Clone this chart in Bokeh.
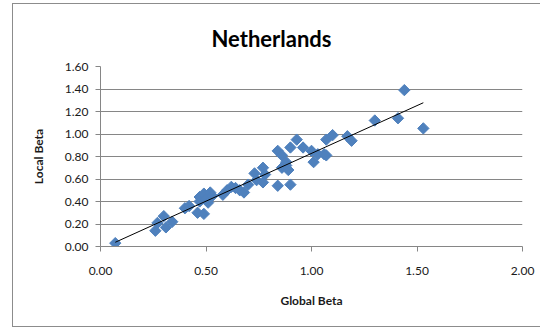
import numpy as np
from bokeh.plotting import figure
from bokeh.models import Range1d, FixedTicker, NumeralTickFormatter, ColumnDataSource
from bokeh.embed import file_html
from bokeh.resources import INLINE

title_text = "Netherlands"
x_label = "Global Beta"
y_label = "Local Beta"
x_ticks = [0.0, 0.5, 1.0, 1.5, 2.0]
y_ticks = [0.0, 0.2, 0.4, 0.6, 0.8, 1.0, 1.2, 1.4, 1.6]

global_beta = [0.07, 0.26, 0.27, 0.30, 0.31, 0.34, 0.40, 0.42, 0.46, 0.47, 0.47, 0.49, 0.49,
               0.50, 0.52, 0.53, 0.51, 0.58, 0.60, 0.62, 0.64, 0.66, 0.68, 0.70, 0.73, 0.74,
               0.77, 0.77, 0.78, 0.84, 0.84, 0.86, 0.86, 0.88, 0.88, 0.89, 0.90, 0.90, 0.93,
               0.96, 1.00, 1.01, 1.03, 1.06, 1.07, 1.07, 1.10, 1.17, 1.19, 1.30, 1.41, 1.44, 1.53]
local_beta = [0.03, 0.14, 0.21, 0.27, 0.17, 0.22, 0.34, 0.36, 0.30, 0.44, 0.40, 0.29, 0.47,
              0.42, 0.48, 0.45, 0.39, 0.46, 0.50, 0.53, 0.52, 0.50, 0.48, 0.55, 0.65, 0.59,
              0.70, 0.57, 0.64, 0.54, 0.85, 0.81, 0.70, 0.72, 0.75, 0.68, 0.55, 0.88, 0.95,
              0.88, 0.85, 0.75, 0.82, 0.82, 0.81, 0.95, 0.99, 0.98, 0.94, 1.12, 1.14, 1.39, 1.05]

FONT = "Lato"
GRAY = "#868686"

xs = np.array(global_beta)
ys = np.array(local_beta)
slope, intercept = np.polyfit(xs, ys, 1)
trend_x = [xs.min(), xs.max()]
trend_y = [slope * v + intercept for v in trend_x]

p = figure(width=528, height=324, output_backend="svg", toolbar_location=None,
           x_range=Range1d(x_ticks[0], x_ticks[-1]), y_range=Range1d(y_ticks[0], y_ticks[-1]),
           min_border_left=87, min_border_right=18, min_border_top=62, min_border_bottom=80)
p.frame_width = 422
p.frame_height = 180
p.outline_line_color = None
p.background_fill_color = "white"
p.border_fill_color = "white"
p.styles = {"border": "1px solid #8c8c8c", "box-sizing": "border-box",
            "margin-left": "12px", "margin-top": "3px"}

p.title.text = title_text
p.title.align = "left"
p.title.offset = 111
p.title.standoff = 25
p.title.vertical_align = "top"
p.title.text_font = FONT
p.title.text_font_size = "22px"
p.title.text_font_style = "bold"
p.title.text_color = "#000000"

p.xgrid.visible = False
p.ygrid.ticker = FixedTicker(ticks=y_ticks)
p.ygrid.grid_line_color = GRAY
p.ygrid.grid_line_width = 1

for ax, ticks in ((p.xaxis[0], x_ticks), (p.yaxis[0], y_ticks)):
    ax.ticker = FixedTicker(ticks=ticks)
    ax.formatter = NumeralTickFormatter(format="0.00")
    ax.axis_line_color = GRAY
    ax.major_tick_line_color = GRAY
    ax.major_tick_in = 0
    ax.major_tick_out = 5
    ax.minor_tick_line_color = None
    ax.major_label_text_font = FONT
    ax.major_label_text_font_size = "12px"
    ax.major_label_text_color = "#1a1a1a"
    ax.axis_label_text_font = FONT
    ax.axis_label_text_font_size = "12px"
    ax.axis_label_text_font_style = "bold"
    ax.axis_label_text_color = "#1a1a1a"

p.xaxis.axis_label = x_label
p.yaxis.axis_label = y_label
p.xaxis.major_label_standoff = 15
p.xaxis.axis_label_standoff = 15
p.yaxis.major_label_standoff = 7
p.yaxis.axis_label_standoff = 16

src = ColumnDataSource(dict(x=global_beta, y=local_beta))
p.scatter("x", "y", source=src, marker="square", angle=np.pi / 4, size=8,
          fill_color="#4F81BD", line_color="#4F81BD")
p.line(trend_x, trend_y, line_color="#000000", line_width=1)

open("out.html", "w").write(file_html(p, INLINE))
